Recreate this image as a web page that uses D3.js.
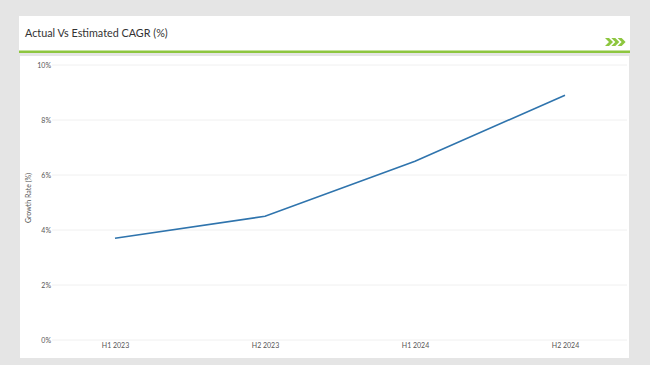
<!DOCTYPE html>
<html><head><meta charset="utf-8">
<script src="https://cdn.jsdelivr.net/npm/d3@7"></script>
<style>html,body{margin:0;padding:0;background:#e5e5e5;}svg{display:block;}</style>
</head><body>
<svg id="c" width="650" height="365"></svg>
<script>
const categories = ["H1 2023", "H2 2023", "H1 2024", "H2 2024"];
const growthValues = [3.7, 4.5, 6.5, 8.9];
const yTicks = [0, 2, 4, 6, 8, 10];
const title = "Actual Vs Estimated CAGR (%)";
const yLabel = "Growth Rate (%)";

const svg = d3.select("#c");
const font = "Lato, 'Open Sans', sans-serif";

svg.append("rect").attr("x",0).attr("y",0).attr("width",650).attr("height",365).attr("fill","#e5e5e5");
// header card
svg.append("rect").attr("x",19).attr("y",16).attr("width",611).attr("height",36).attr("fill","#fff");
svg.append("rect").attr("x",19).attr("y",50.5).attr("width",611).attr("height",2.5).attr("fill","#8dc63f");
svg.append("text").attr("x",25).attr("y",36.5).attr("font-family",font).attr("font-size",10.8)
  .attr("fill","#333").text(title);
// chevrons
const chev = svg.append("g").attr("fill","#8dc63f");
[0,1,2].forEach(i=>{
  const x0 = 605 + i*6.3;
  chev.append("path").attr("d",`M${x0},38 L${x0+4},38 L${x0+8},42 L${x0+4},46 L${x0},46 L${x0+4},42 Z`);
});
// plot card
svg.append("rect").attr("x",20).attr("y",56).attr("width",609).attr("height",302).attr("fill","#fff");

const x = d3.scalePoint().domain(categories).range([40,640]).padding(0.5);
const y = d3.scaleLinear().domain([0,10]).range([340,65]);

// gridlines
svg.append("g").selectAll("line").data(yTicks).join("line")
  .attr("x1",52).attr("x2",627).attr("y1",d=>y(d)).attr("y2",d=>y(d))
  .attr("stroke","#f0f0f0").attr("stroke-width",1);

// y axis
const yAxis = d3.axisLeft(y).tickValues(yTicks).tickFormat(d=>d+"%").tickSize(0).tickPadding(0);
const gy = svg.append("g").attr("transform","translate(51,0)").call(yAxis);
gy.select(".domain").remove();
gy.selectAll("text").attr("font-family",font).attr("font-size",7).attr("fill","#555").attr("dy","0.32em");

// x axis
const xAxis = d3.axisBottom(x).tickSize(0).tickPadding(0);
const gx = svg.append("g").attr("transform","translate(0,343)").call(xAxis);
gx.select(".domain").remove();
gx.selectAll("text").attr("font-family",font).attr("font-size",7).attr("fill","#555").attr("dy","0.71em");

// y label
svg.append("text").attr("transform","translate(31,198) rotate(-90)").attr("text-anchor","middle")
  .attr("font-family",font).attr("font-size",7).attr("fill","#555").text(yLabel);

// line
const line = d3.line().x((d,i)=>x(categories[i])).y(d=>y(d));
svg.append("path").datum(growthValues).attr("d",line).attr("fill","none")
  .attr("stroke","#2f74ad").attr("stroke-width",1.6);
</script>
</body></html>
